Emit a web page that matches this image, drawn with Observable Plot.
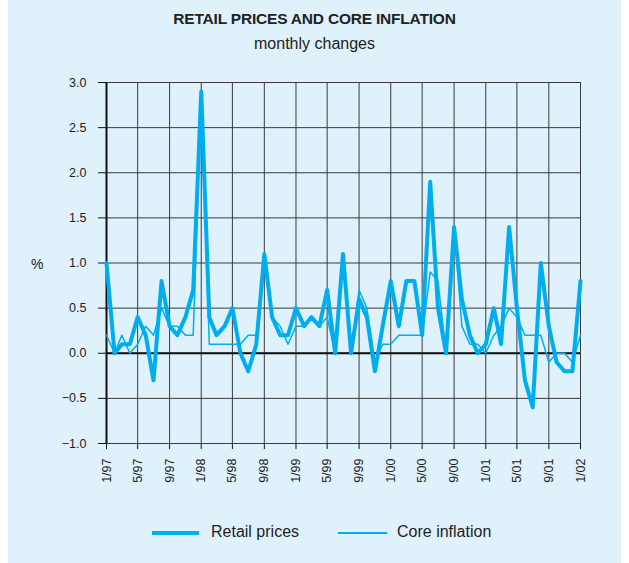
<!DOCTYPE html>
<html>
<head>
<meta charset="utf-8">
<script src="https://cdn.jsdelivr.net/npm/d3@7"></script>
<script src="https://cdn.jsdelivr.net/npm/@observablehq/plot@0.6"></script>
<style>
  html, body { margin: 0; padding: 0; background: #ffffff; }
  #wrap { position: relative; width: 629px; height: 563px; overflow: hidden; font-family: "Liberation Sans", Arial, sans-serif; }
  #panel { position: absolute; left: 8px; top: 0; width: 613px; height: 563px; background: #dff1fb; }
  #title { position: absolute; left: 0; width: 629px; top: 10px; text-align: center; font-weight: bold; font-size: 15.5px; color: #222; letter-spacing: -0.2px; }
  #subtitle { position: absolute; left: 0; width: 629px; top: 35px; text-align: center; font-size: 16px; color: #222; }
  #chart { position: absolute; left: 0; top: 0; }
  #pct { position: absolute; left: 31px; top: 256px; font-size: 14px; color: #222; }
  .leg { position: absolute; top: 523px; font-size: 16px; color: #222; }
  .sw { position: absolute; background: #00aeef; }
</style>
</head>
<body>
<div id="wrap">
  <div id="panel"></div>
  <div id="chart"></div>
  <div id="title">RETAIL PRICES AND CORE INFLATION</div>
  <div id="subtitle">monthly changes</div>
  <div id="pct">%</div>
  <div class="sw" style="left:152px; top:531px; width:47px; height:4px;"></div>
  <div class="leg" style="left:211px;">Retail prices</div>
  <div class="sw" style="left:338px; top:532px; width:49px; height:1.5px;"></div>
  <div class="leg" style="left:397px;">Core inflation</div>
</div>
<script>
// Monthly changes, 1/97 .. 1/02 (61 months)
const retailPrices = [1.0,0.0,0.1,0.1,0.4,0.2,-0.3,0.8,0.3,0.2,0.4,0.7,
  2.9,0.4,0.2,0.3,0.5,0.0,-0.2,0.1,1.1,0.4,0.2,0.2,
  0.5,0.3,0.4,0.3,0.7,0.0,1.1,0.0,0.6,0.4,-0.2,0.3,
  0.8,0.3,0.8,0.8,0.2,1.9,0.5,0.0,1.4,0.6,0.2,0.0,
  0.1,0.5,0.1,1.4,0.5,-0.3,-0.6,1.0,0.3,-0.1,-0.2,-0.2,
  0.8];
const coreInflation = [0.2,0.0,0.2,0.0,0.1,0.3,0.2,0.5,0.3,0.3,0.2,0.2,
  2.9,0.1,0.1,0.1,0.1,0.1,0.2,0.2,1.1,0.4,0.3,0.1,
  0.3,0.3,0.4,0.3,0.4,0.0,1.1,0.0,0.7,0.5,-0.1,0.1,
  0.1,0.2,0.2,0.2,0.2,0.9,0.8,0.0,1.4,0.3,0.1,0.1,
  0.0,0.2,0.3,0.5,0.4,0.2,0.2,0.2,-0.1,0.0,0.0,-0.1,
  0.2];
const xTickLabels = ["1/97","5/97","9/97","1/98","5/98","9/98","1/99","5/99","9/99",
  "1/00","5/00","9/00","1/01","5/01","9/01","1/02"];
const yTicks = [-1.0,-0.5,0.0,0.5,1.0,1.5,2.0,2.5,3.0];

const start = new Date(Date.UTC(1997, 0, 1));
const end = new Date(Date.UTC(2002, 1, 1));
const months = d3.utcMonth.range(start, end);
const xTicks = d3.utcMonth.every(4).range(start, end);

const rows = months.map((d, i) => ({date: d, retail: retailPrices[i], core: coreInflation[i]}));

const lineColor = "#00aeef";
const gridColor = "#3a3a3a";

const chart = Plot.plot({
  width: 629,
  height: 563,
  marginLeft: 106,
  marginRight: 49,
  marginTop: 82,
  marginBottom: 120,
  style: {background: "transparent", fontFamily: "'Liberation Sans', Arial, sans-serif", fontSize: "12.5px", color: "#222"},
  x: {type: "utc", domain: [start, months[months.length - 1]]},
  y: {domain: [-1, 3]},
  marks: [
    Plot.gridX(xTicks, {stroke: gridColor, strokeOpacity: 1, strokeWidth: 1}),
    Plot.gridY(yTicks, {stroke: gridColor, strokeOpacity: 1, strokeWidth: 1}),
    Plot.ruleY([0], {stroke: "#111", strokeWidth: 2}),
    Plot.ruleX([start], {stroke: "#111", strokeWidth: 2}),
    Plot.axisY(yTicks, {tickSize: 8, tickPadding: 12, tickFormat: d3.format(".1f"), label: null, stroke: "#111", fontSize: 12.5}),
    Plot.axisX(xTicks, {tickSize: 6, tickPadding: 9, tickRotate: -90, tickFormat: (d, i) => xTickLabels[i], label: null, stroke: "#111", fontSize: 12.5}),
    Plot.line(rows, {x: "date", y: "core", stroke: lineColor, strokeWidth: 1.5}),
    Plot.line(rows, {x: "date", y: "retail", stroke: lineColor, strokeWidth: 4})
  ]
});
document.getElementById("chart").appendChild(chart);
</script>
</body>
</html>
